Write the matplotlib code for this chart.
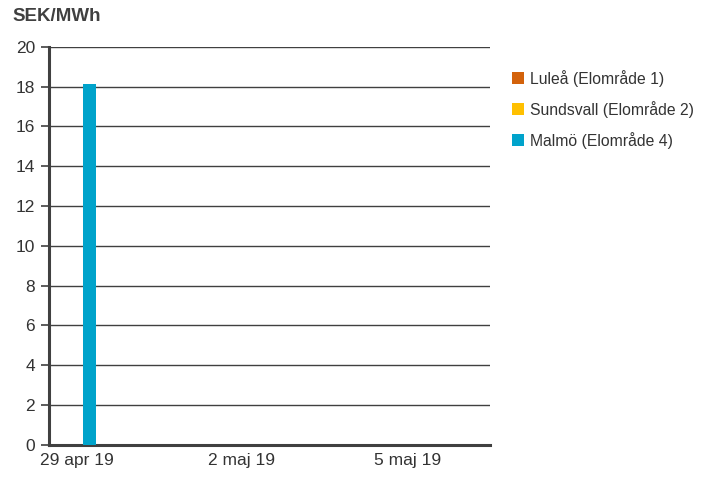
import numpy as np
import matplotlib
matplotlib.use("Agg")
import matplotlib.pyplot as plt

plt.rcParams['font.family'] = ['Liberation Sans', 'DejaVu Sans']

dates = ["29 apr 19", "30 apr 19", "1 maj 19", "2 maj 19",
         "3 maj 19", "4 maj 19", "5 maj 19", "6 maj 19"]
lulea = [0, 0, 0, 0, 0, 0, 0, 0]
sundsvall = [0, 0, 0, 0, 0, 0, 0, 0]
malmo = [18.15, 0, 0, 0, 0, 0, 0, 0]

names = ["Luleå (Elområde 1)", "Sundsvall (Elområde 2)", "Malmö (Elområde 4)"]
colors = ["#D3620B", "#FFC000", "#00A3CB"]

fig = plt.figure(figsize=(7.11, 4.82), dpi=100)
ax = fig.add_axes([0.069, 0.077, 0.62, 0.826])

x = np.arange(len(dates))
w = 0.235
handles = []
for i, (vals, col) in enumerate(zip([lulea, sundsvall, malmo], colors)):
    b = ax.bar(x + (i - 1) * w, vals, width=w, color=col, label=names[i], zorder=3)
    handles.append(b)

ax.set_xlim(-0.5, len(dates) - 0.5)
ax.set_ylim(0, 20)
ax.set_yticks(range(0, 21, 2))
ax.set_xticks(x[::3])
ax.set_xticklabels(dates[::3])
ax.tick_params(axis='x', length=0, pad=6, labelsize=12.5, colors='#333333')
ax.tick_params(axis='y', length=6, width=1.2, color='#404040', pad=4, labelsize=12.5, labelcolor='#333333')
ax.grid(axis='y', color='#404040', linewidth=1.0, zorder=0)
ax.set_axisbelow(True)
for s in ['top', 'right']:
    ax.spines[s].set_visible(False)
ax.spines['left'].set_color('#404040')
ax.spines['left'].set_linewidth(2.2)
ax.spines['bottom'].set_color('#404040')
ax.spines['bottom'].set_linewidth(2.2)

fig.text(0.017, 0.965, "SEK/MWh", fontsize=13.5, fontweight='bold', color='#404040', va='center')

fig.legend(handles=handles, loc='upper left', bbox_to_anchor=(0.70, 0.885), frameon=False,
           fontsize=11.3, handlelength=0.75, handleheight=0.75, handletextpad=0.4,
           labelspacing=0.9, labelcolor='#333333')

fig.savefig("out.png", dpi=100)
